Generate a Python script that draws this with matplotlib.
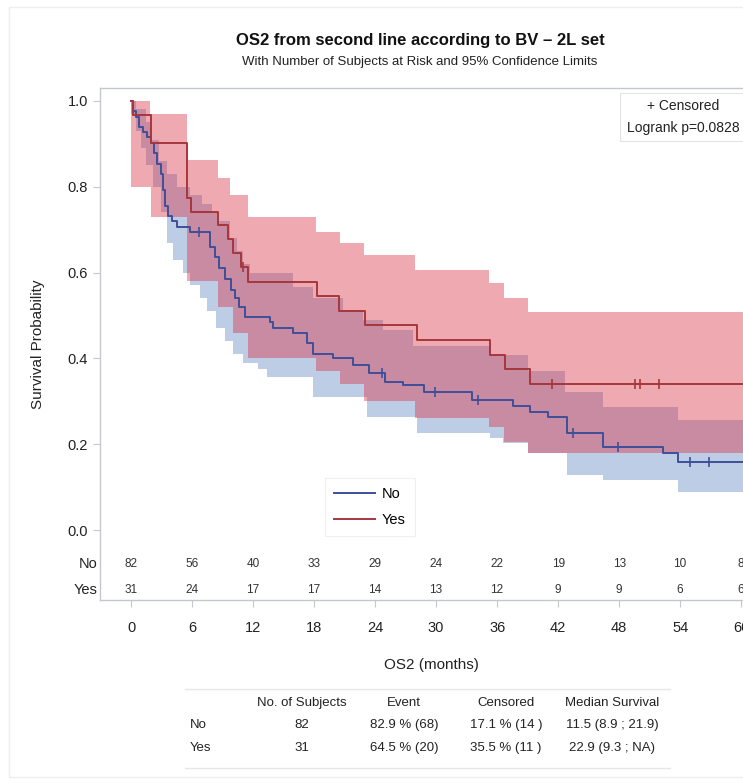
import matplotlib
matplotlib.use("Agg")
import matplotlib.pyplot as plt
from matplotlib.lines import Line2D
from matplotlib.patches import Rectangle

plt.rcParams['font.family'] = ['Liberation Sans Narrow', 'Liberation Sans', 'DejaVu Sans']

W, H = 743, 783

# Kaplan-Meier steps, group "No" (BV not given)
no_t = [0, 0.2, 0.5, 0.8, 1.2, 1.6, 2.0, 2.3, 2.6, 2.9, 3.1, 3.3, 3.6, 4.0, 4.5, 5.8,
        7.8, 8.3, 8.7, 9.2, 9.8, 10.2, 10.6, 11.2, 13.7, 14.0, 15.9, 17.3, 17.9, 19.9,
        21.8, 23.4, 25.0, 26.7, 28.8, 33.5, 37.6, 39.2, 41.0, 42.9, 46.4, 52.3, 53.8, 62]
no_s = [1.0, 0.976, 0.963, 0.939, 0.927, 0.915, 0.902, 0.878, 0.854, 0.829, 0.793, 0.756,
        0.732, 0.720, 0.707, 0.695, 0.660, 0.636, 0.610, 0.585, 0.560, 0.540, 0.520, 0.497,
        0.485, 0.470, 0.458, 0.436, 0.410, 0.400, 0.385, 0.366, 0.345, 0.338, 0.322, 0.303,
        0.290, 0.275, 0.263, 0.226, 0.194, 0.180, 0.159, 0.159]
no_cens_t = [6.7, 24.7, 29.9, 34.1, 43.5, 47.9, 55.0, 56.8]
no_cens_s = [0.695, 0.366, 0.322, 0.303, 0.226, 0.194, 0.159, 0.159]

# 95% confidence band, group "No"
no_band_t = [0, 0.5, 1.0, 1.5, 2.0, 2.2, 2.8, 2.9, 3.5, 4.1, 4.5, 5.1, 5.8, 6.8, 7.0, 7.5,
             8.0, 8.4, 8.6, 9.2, 9.7, 10.0, 10.4, 11.0, 11.7, 12.5, 13.4, 15.9, 17.9, 20.8,
             22.8, 23.2, 24.8, 27.7, 28.1, 35.3, 36.6, 39.0, 42.7, 42.9, 46.4, 53.8, 62]
no_band_lo = [0.97, 0.93, 0.89, 0.85, 0.85, 0.80, 0.80, 0.74, 0.67, 0.63, 0.63, 0.60, 0.57,
              0.54, 0.54, 0.51, 0.51, 0.47, 0.47, 0.44, 0.44, 0.41, 0.41, 0.39, 0.39, 0.375,
              0.357, 0.357, 0.31, 0.31, 0.31, 0.263, 0.263, 0.263, 0.226, 0.214, 0.203, 0.18,
              0.18, 0.128, 0.117, 0.089, 0.089]
no_band_hi = [1.0, 0.98, 0.98, 0.95, 0.91, 0.91, 0.86, 0.86, 0.83, 0.83, 0.80, 0.80, 0.78,
              0.78, 0.76, 0.76, 0.74, 0.74, 0.72, 0.72, 0.68, 0.68, 0.65, 0.62, 0.60, 0.60,
              0.60, 0.566, 0.54, 0.513, 0.49, 0.49, 0.466, 0.43, 0.43, 0.408, 0.408, 0.37,
              0.322, 0.322, 0.287, 0.256, 0.256]

# Kaplan-Meier steps, group "Yes"
yes_t = [0, 0.2, 2.0, 5.5, 5.9, 8.6, 9.5, 10.0, 10.8, 11.5, 18.3, 20.5, 23.0, 28.1, 35.3,
         36.8, 39.2, 62]
yes_s = [1.0, 0.968, 0.903, 0.774, 0.742, 0.710, 0.677, 0.645, 0.613, 0.579, 0.545, 0.511,
         0.477, 0.443, 0.409, 0.375, 0.341, 0.341]
yes_cens_t = [11.0, 41.4, 49.6, 50.1, 51.9]
yes_cens_s = [0.613, 0.341, 0.341, 0.341, 0.341]

# 95% confidence band, group "Yes"
yes_band_t = [0, 1.9, 2.0, 5.5, 8.6, 9.7, 10.0, 11.5, 18.2, 20.6, 22.9, 27.9, 35.2, 36.7,
              39.0, 62]
yes_band_lo = [0.80, 0.80, 0.73, 0.58, 0.52, 0.52, 0.46, 0.40, 0.37, 0.34, 0.30, 0.26,
               0.24, 0.205, 0.18, 0.18]
yes_band_hi = [1.0, 0.97, 0.97, 0.862, 0.82, 0.78, 0.78, 0.73, 0.695, 0.67, 0.64, 0.606,
               0.576, 0.54, 0.508, 0.508]

# numbers at risk
risk_times = [0, 6, 12, 18, 24, 30, 36, 42, 48, 54, 60]
risk_no = [82, 56, 40, 33, 29, 24, 22, 19, 13, 10, 8]
risk_yes = [31, 24, 17, 17, 14, 13, 12, 9, 9, 6, 6]

# summary table
tab_cols = ["No. of Subjects", "Event", "Censored", "Median Survival"]
tab_rows = ["No", "Yes"]
tab_cells = [["82", "82.9 % (68)", "17.1 % (14 )", "11.5 (8.9 ; 21.9)"],
             ["31", "64.5 % (20)", "35.5 % (11 )", "22.9 (9.3 ; NA)"]]

blue_line = "#3e4f98"
red_line = "#a6363c"
blue_fill = (92 / 255, 130 / 255, 192 / 255)
red_fill = (217 / 255, 42 / 255, 62 / 255)
grey = "#c4c8cc"


def px(x, y):
    return x / W, 1 - y / H


fig = plt.figure(figsize=(W / 100, H / 100), dpi=100)

# axes runs past the right edge of the figure
ax_l, ax_t, ax_r, ax_b = 100, 88, 762, 600
ax = fig.add_axes([ax_l / W, 1 - ax_b / H, (ax_r - ax_l) / W, (ax_b - ax_t) / H])

ax.fill_between(no_band_t, no_band_lo, no_band_hi, step='post', color=blue_fill,
                alpha=0.4, lw=0)
ax.fill_between(yes_band_t, yes_band_lo, yes_band_hi, step='post', color=red_fill,
                alpha=0.4, lw=0)
ax.step(no_t, no_s, where='post', color=blue_line, lw=1.4)
ax.step(yes_t, yes_s, where='post', color=red_line, lw=1.4)
ax.plot(no_cens_t, no_cens_s, ls='none', marker='|', ms=7, mew=1.2, color=blue_line)
ax.plot(yes_cens_t, yes_cens_s, ls='none', marker='|', ms=7, mew=1.2, color=red_line)

ax.set_xlim(-3.05, 62.05)
ax.set_ylim(-0.163, 1.030)
ax.set_yticks([0, 0.2, 0.4, 0.6, 0.8, 1.0])
ax.set_yticklabels(["0.0", "0.2", "0.4", "0.6", "0.8", "1.0"])
ax.set_xticks(risk_times)
ax.tick_params(axis='both', colors=grey, labelcolor='#222222', length=5, width=0.8,
               labelsize=10.5)
ax.tick_params(axis='x', pad=10)
for side in ['left', 'bottom', 'top']:
    ax.spines[side].set_color(grey)
    ax.spines[side].set_linewidth(1.0)
ax.spines['right'].set_visible(False)

ax.set_ylabel("Survival Probability", fontsize=11, color='#222222', labelpad=16)
ax.set_xlabel("OS2 (months)", fontsize=11, color='#222222', labelpad=17)

# at-risk rows
for t, n_no, n_yes in zip(risk_times, risk_no, risk_yes):
    ax.text(t, -0.079, str(n_no), ha='center', va='center', fontsize=8.5, color='#333333')
    ax.text(t, -0.140, str(n_yes), ha='center', va='center', fontsize=8.5, color='#333333')
fig.text(*px(97, 564), "No", ha='right', va='center', fontsize=10.5, color='#222222')
fig.text(*px(97, 590), "Yes", ha='right', va='center', fontsize=10.5, color='#222222')

# censored / logrank inset
fig.text(*px(683, 117), "+ Censored\nLogrank p=0.0828", ha='center', va='center',
         fontsize=10, color='#222222', linespacing=1.7,
         bbox=dict(boxstyle='square,pad=0.45', fc='white', ec='#e4e4e4', lw=0.8))

# group legend
handles = [Line2D([], [], color=blue_line, lw=1.4), Line2D([], [], color=red_line, lw=1.4)]
leg = ax.legend(handles, ["No", "Yes"], loc='upper left',
                bbox_to_anchor=px(325, 478), bbox_transform=fig.transFigure,
                fontsize=10.5, handlelength=2.8, handletextpad=0.5, borderaxespad=0,
                frameon=True, fancybox=False, labelspacing=0.85, borderpad=0.6)
leg.get_frame().set_edgecolor('#ececec')
leg.get_frame().set_linewidth(0.8)

# titles
fig.text(*px(420, 41), "OS2 from second line according to BV \u2013 2L set", ha='center',
         va='center', fontsize=12, fontweight='bold', color='#111111')
fig.text(*px(420, 62), "With Number of Subjects at Risk and 95% Confidence Limits",
         ha='center', va='center', fontsize=9.5, color='#222222')

# summary table under the plot
col_x = [302, 404, 506, 612]
fig.add_artist(Line2D([185 / W, 670 / W], [1 - 689 / H] * 2, color='#e6e6e6', lw=1))
fig.add_artist(Line2D([185 / W, 670 / W], [1 - 768 / H] * 2, color='#e6e6e6', lw=1))
for x, c in zip(col_x, tab_cols):
    fig.text(*px(x, 703), c, ha='center', va='center', fontsize=9.5, color='#222222')
for y, r, cells in zip([725, 748], tab_rows, tab_cells):
    fig.text(*px(190, y), r, ha='left', va='center', fontsize=9.5, color='#222222')
    for x, c in zip(col_x, cells):
        fig.text(*px(x, y), c, ha='center', va='center', fontsize=9.5, color='#222222')

# faint outer frame
fig.add_artist(Rectangle((9 / W, 1 - 777 / H), 1, (777 - 7) / H, transform=fig.transFigure,
                         fill=False, ec='#eeeeee', lw=1))

fig.savefig("out.png", dpi=100)
